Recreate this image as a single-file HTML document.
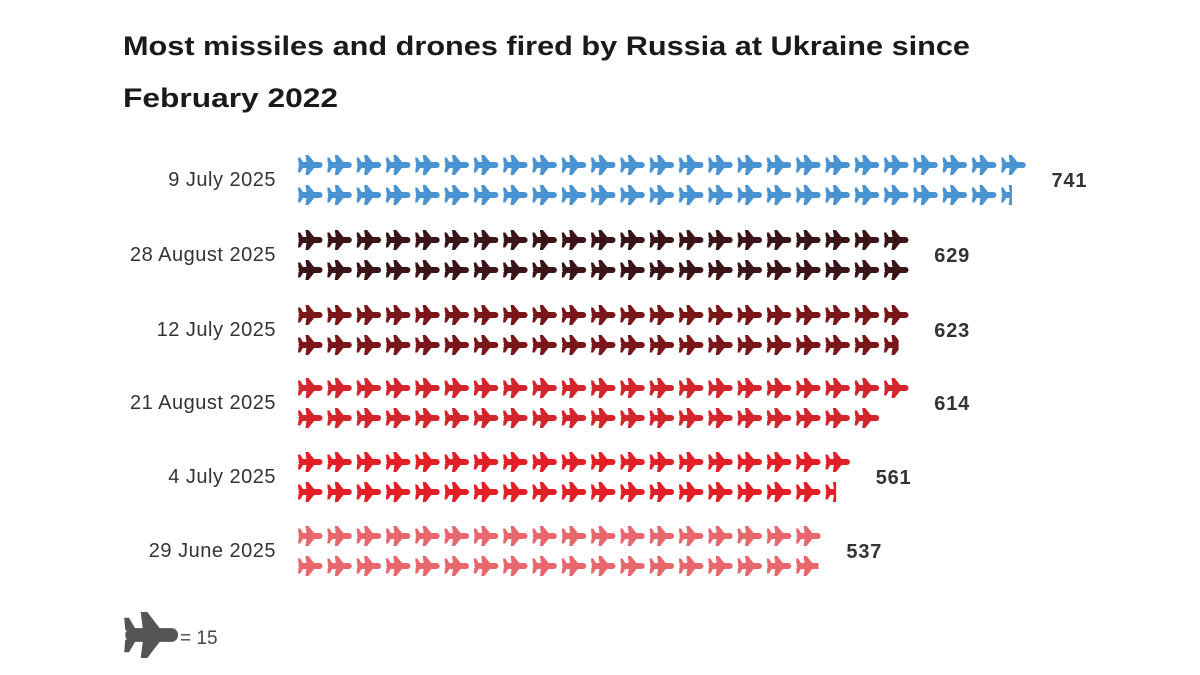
<!DOCTYPE html>
<html><head><meta charset="utf-8"><style>
html,body{margin:0;padding:0;background:#fff;width:1200px;height:675px;overflow:hidden}
svg{display:block;font-family:"Liberation Sans",sans-serif}
</style></head><body>
<svg id="c" width="1200" height="675" viewBox="0 0 1200 675">
<defs>
<g id="p">
<rect x="1.5" y="7" width="24" height="6" rx="3"/>
<polygon points="17.5,7.5 11.5,0 8.5,0 9.5,7.5"/>
<polygon points="17.5,12.5 11.5,20 8.5,20 9.5,12.5"/>
<polygon points="6.5,8 3.2,2.5 1,2.5 1.5,8"/>
<polygon points="6.5,12 3.2,17.5 1,17.5 1.5,12"/>
</g>
</defs>
<text x="123" y="55" font-size="27" font-weight="bold" fill="#1a1a1a" textLength="847" lengthAdjust="spacingAndGlyphs">Most missiles and drones fired by Russia at Ukraine since</text>
<text x="123" y="107" font-size="27" font-weight="bold" fill="#1a1a1a" textLength="215" lengthAdjust="spacingAndGlyphs">February 2022</text>
<g id="rows"></g>
<use href="#p" transform="translate(122,612) scale(2.2,2.3)" fill="#555"/>
<text x="180" y="644" font-size="19" fill="#444">= 15</text>
</svg>
<script>
var data=[["9 July 2025",741,"#4a93d3",180],["28 August 2025",629,"#3a1416",255],["12 July 2025",623,"#7a1619",330],["21 August 2025",614,"#d3262c",403],["4 July 2025",561,"#e21f26",477],["29 June 2025",537,"#e8676d",551]];
var s="",pitch=29.3,x0=297;
data.forEach(function(d,i){
 var n=d[1]/15,r1=Math.ceil(n/2),r2=n-r1,cy=d[3];
 s+='<text x="276" y="'+(cy+6)+'" text-anchor="end" font-size="20" letter-spacing="0.5" fill="#333">'+d[0]+'</text>';
 s+='<clipPath id="k'+i+'"><rect x="0" y="'+(cy+2)+'" width="'+(x0+r2*pitch)+'" height="30"/></clipPath>';
 for(var j=0;j<r1;j++) s+='<use href="#p" fill="'+d[2]+'" x="'+(x0+j*pitch)+'" y="'+(cy-25)+'"/>';
 s+='<g clip-path="url(#k'+i+')">';
 for(var j=0;j<Math.ceil(r2);j++) s+='<use href="#p" fill="'+d[2]+'" x="'+(x0+j*pitch)+'" y="'+(cy+5)+'"/>';
 s+='</g>';
 s+='<text x="'+(x0+r1*pitch+22)+'" y="'+(cy+7)+'" font-size="20" font-weight="bold" letter-spacing="0.8" fill="#333">'+d[1]+'</text>';
});
document.getElementById("rows").innerHTML=s;
</script>
</body></html>
